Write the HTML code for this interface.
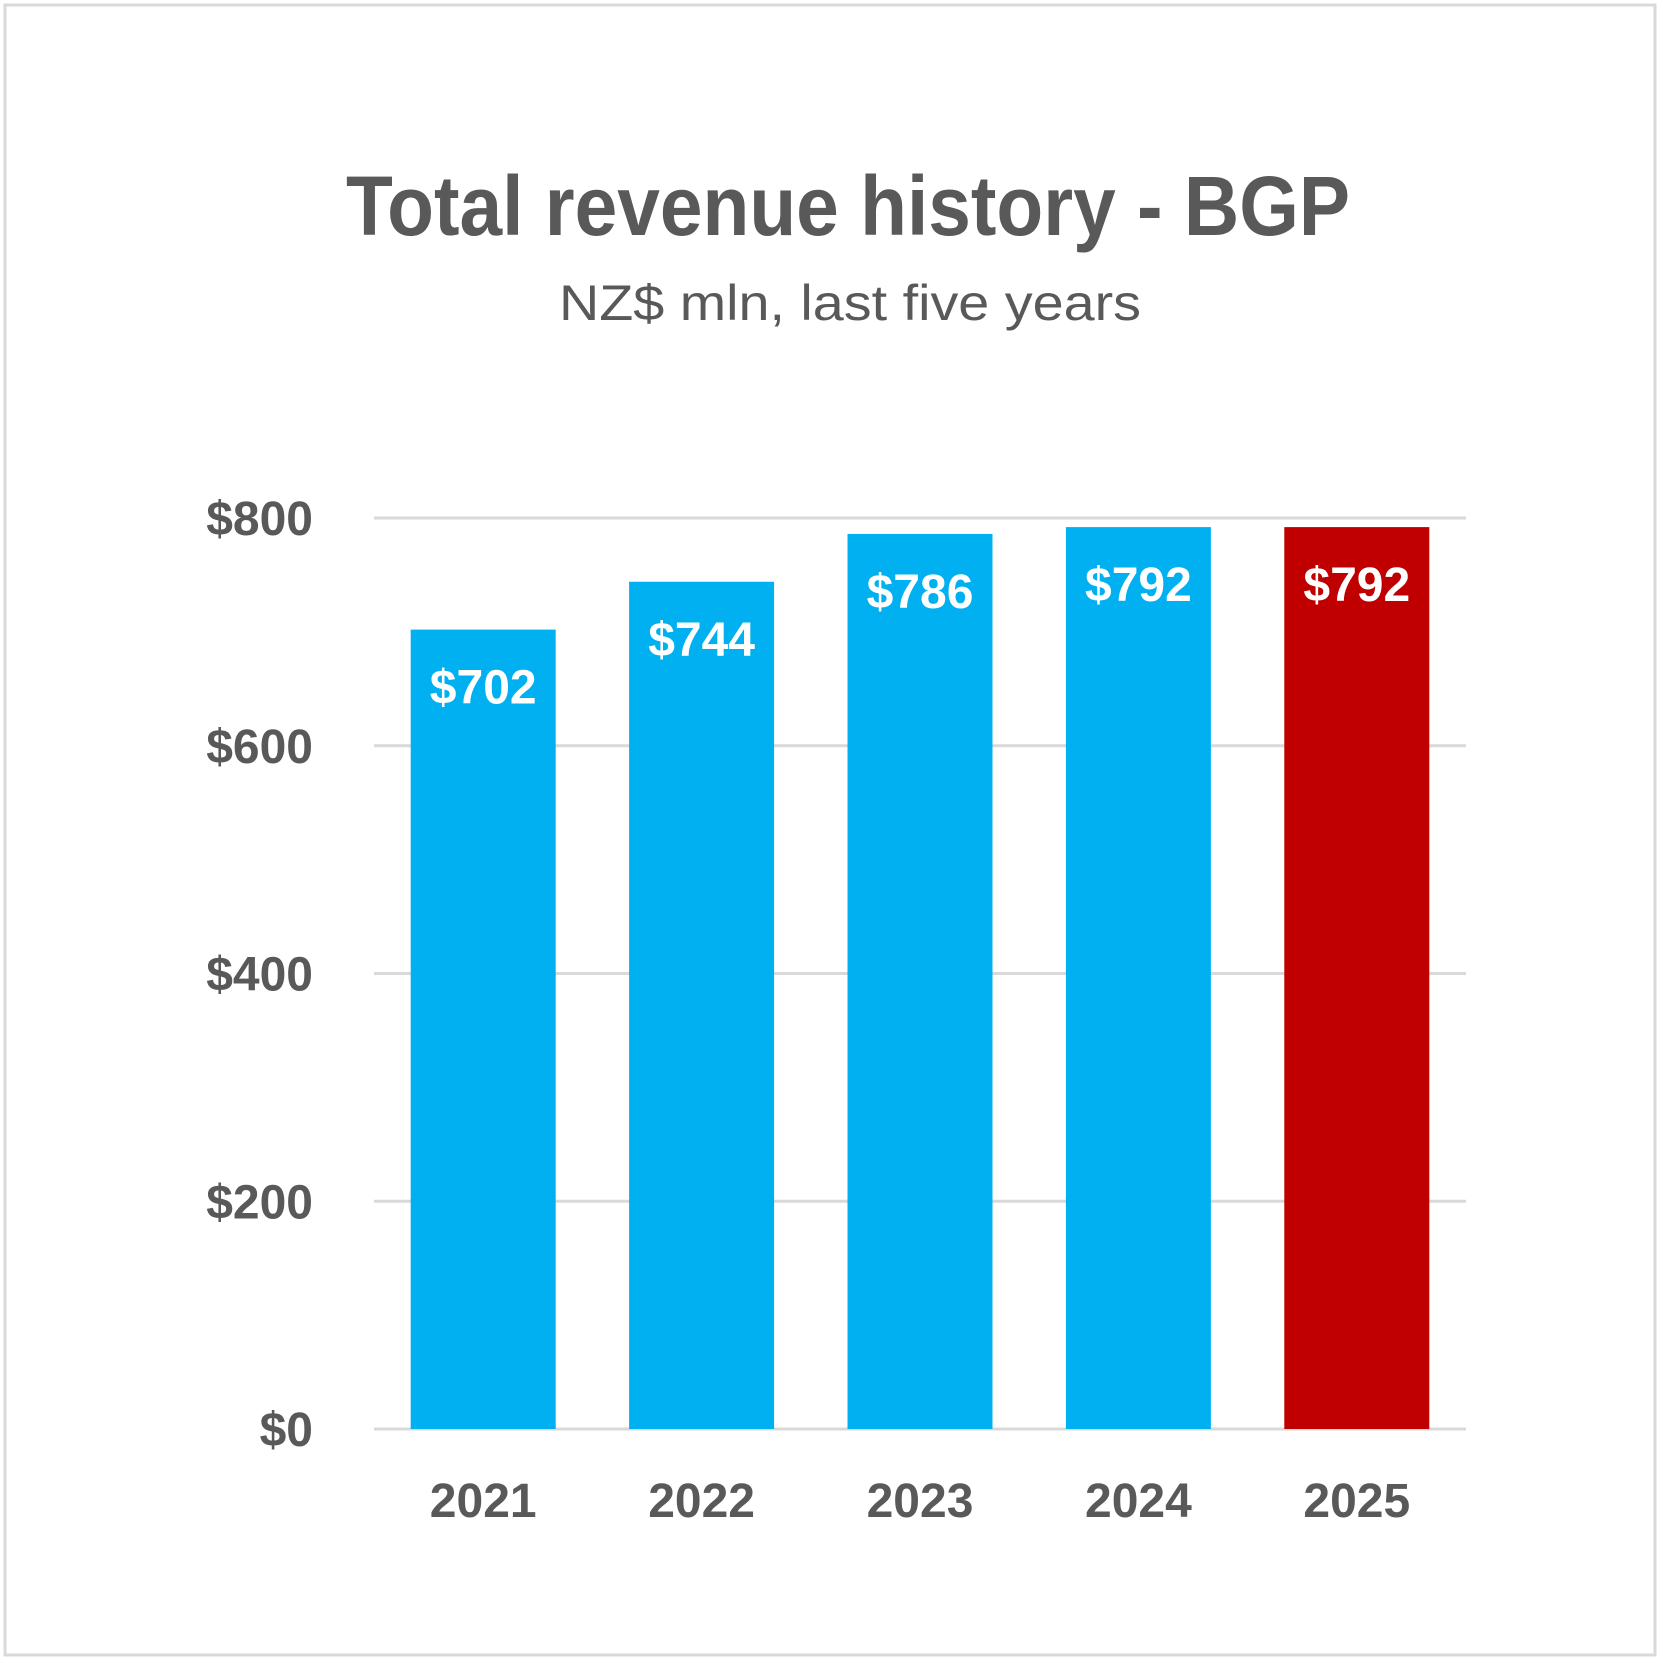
<!DOCTYPE html>
<html><head><meta charset="utf-8"><style>
html,body{margin:0;padding:0;background:#fff;}
svg{display:block;font-family:"Liberation Sans Narrow","Liberation Sans",sans-serif;}
</style></head><body>
<svg id="chart" width="1663" height="1663" viewBox="0 0 1663 1663" xmlns="http://www.w3.org/2000/svg">
<rect x="5" y="5" width="1650" height="1650" fill="#fff" stroke="#d9d9d9" stroke-width="3"/>
<text x="848" y="235" text-anchor="middle" font-size="84" font-weight="bold" fill="#595959" textLength="1004" lengthAdjust="spacingAndGlyphs">Total revenue history - BGP</text>
<text x="850" y="320" text-anchor="middle" font-size="50" fill="#595959" textLength="582" lengthAdjust="spacingAndGlyphs">NZ$ mln, last five years</text>
<g id="grid"></g><g id="bars"></g><g id="labels"></g>
</svg>
<script>
const categories = ["2021","2022","2023","2024","2025"];
const values = [702,744,786,792,792];
const highlight = [false,false,false,false,true];
const yTicks = [0,200,400,600,800];
const yTickLabels = ["$0","$200","$400","$600","$800"];
const valueLabels = ["$702","$744","$786","$792","$792"];

const NS="http://www.w3.org/2000/svg";
const x0=374,x1=1466,yTop=518,yBot=1429,yMax=800;
const band=(x1-x0)/categories.length, bw=145;
const y=v=>yBot-(v/yMax)*(yBot-yTop);
const xc=i=>x0+band*(i+0.5);
function mk(t,a,p){const e=document.createElementNS(NS,t);for(const k in a)e.setAttribute(k,a[k]);p.appendChild(e);return e;}
const grid=document.getElementById('grid'),bars=document.getElementById('bars'),labels=document.getElementById('labels');
yTicks.forEach((t,i)=>{
  const l=mk('line',{x1:x0,x2:x1,y1:y(t),y2:y(t),stroke:'#d9d9d9','stroke-width':3},grid);
  
  
  const tx=mk('text',{x:313,y:y(t)+17,'text-anchor':'end','font-size':48,'font-weight':'bold',fill:'#595959'},labels);
  tx.textContent=yTickLabels[i];
  
  
});
categories.forEach((c,i)=>{
  const r=mk('rect',{x:xc(i)-bw/2,y:y(values[i]),width:bw,height:yBot-y(values[i]),fill:highlight[i]?'#C00000':'#00B0F0'},bars);
  
  
  const v=mk('text',{x:xc(i),y:y(values[i])+74,'text-anchor':'middle','font-size':48,'font-weight':'bold',fill:'#fff'},labels);
  v.textContent=valueLabels[i];
  
  
  const xl=mk('text',{x:xc(i),y:1517,'text-anchor':'middle','font-size':48,'font-weight':'bold',fill:'#595959'},labels);
  xl.textContent=c;
  
  
});
</script>
</body></html>
